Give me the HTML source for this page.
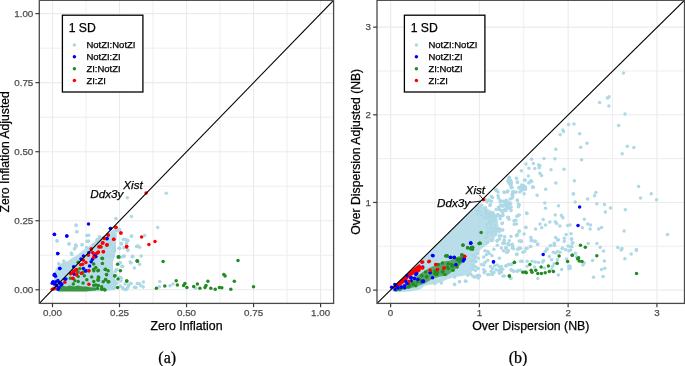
<!DOCTYPE html><html><head><meta charset="utf-8"><style>html,body{margin:0;padding:0;background:#fff;}svg{display:block;will-change:transform;}text{font-family:"Liberation Sans",sans-serif;stroke:currentColor;stroke-width:0.25px;}</style></head><body>
<svg width="685" height="366" viewBox="0 0 685 366">
<g stroke="#EEEEEE" stroke-width="1.0"><line x1="86.01" y1="0.3" x2="86.01" y2="303.4"/><line x1="39.3" y1="255.28" x2="333.6" y2="255.28"/><line x1="153.04" y1="0.3" x2="153.04" y2="303.4"/><line x1="39.3" y1="186.23" x2="333.6" y2="186.23"/><line x1="220.06" y1="0.3" x2="220.06" y2="303.4"/><line x1="39.3" y1="117.18" x2="333.6" y2="117.18"/><line x1="287.09" y1="0.3" x2="287.09" y2="303.4"/><line x1="39.3" y1="48.13" x2="333.6" y2="48.13"/></g>
<g stroke="#EBEBEB" stroke-width="1.1"><line x1="52.50" y1="0.3" x2="52.50" y2="303.4"/><line x1="39.3" y1="289.80" x2="333.6" y2="289.80"/><line x1="119.53" y1="0.3" x2="119.53" y2="303.4"/><line x1="39.3" y1="220.75" x2="333.6" y2="220.75"/><line x1="186.55" y1="0.3" x2="186.55" y2="303.4"/><line x1="39.3" y1="151.70" x2="333.6" y2="151.70"/><line x1="253.58" y1="0.3" x2="253.58" y2="303.4"/><line x1="39.3" y1="82.65" x2="333.6" y2="82.65"/><line x1="320.60" y1="0.3" x2="320.60" y2="303.4"/><line x1="39.3" y1="13.60" x2="333.6" y2="13.60"/></g>
<polygon points="52.5,291 53,284 54.5,276 55,271 57,267 60,264 64,262 68,261 72,258 76,256 81,252 86,248 91,245 96,240 101,237 105,235 110,232 114,229 116.5,230 117,236 116,242 116,249 115,256 113,262 113,270 115,278 116,285 115,290 100,291.5" fill="#ADD8E6" fill-opacity="0.9"/>
<polygon points="58,286.5 62,285.6 66,286.4 70,285.6 74,286.4 78,285.6 82,286.4 86,286.5 90,287.3 96,287.5 96,290.5 90,291 86,291.5 58,291.5" fill="#228B22" fill-opacity="0.85"/>
<g fill="#ADD8E6"><circle cx="76.0" cy="224.9" r="1.75"/><circle cx="76.9" cy="231.8" r="1.75"/><circle cx="57.1" cy="241.0" r="1.75"/><circle cx="69.0" cy="244.0" r="1.75"/><circle cx="75.6" cy="245.1" r="1.75"/><circle cx="82.0" cy="244.8" r="1.75"/><circle cx="86.9" cy="235.5" r="1.75"/><circle cx="86.9" cy="241.3" r="1.75"/><circle cx="86.5" cy="247.5" r="1.75"/><circle cx="74.6" cy="248.5" r="1.75"/><circle cx="116.0" cy="218.4" r="1.75"/><circle cx="131.4" cy="216.4" r="1.75"/><circle cx="117.4" cy="230.3" r="1.75"/><circle cx="119.4" cy="229.4" r="1.75"/><circle cx="131.4" cy="236.2" r="1.75"/><circle cx="113.3" cy="235.8" r="1.75"/><circle cx="99.6" cy="237.6" r="1.75"/><circle cx="97.6" cy="240.3" r="1.75"/><circle cx="101.7" cy="241.0" r="1.75"/><circle cx="88.7" cy="235.2" r="1.75"/><circle cx="88.7" cy="241.0" r="1.75"/><circle cx="93.5" cy="244.4" r="1.75"/><circle cx="121.5" cy="243.7" r="1.75"/><circle cx="123.5" cy="239.6" r="1.75"/><circle cx="127.6" cy="240.3" r="1.75"/><circle cx="126.3" cy="243.4" r="1.75"/><circle cx="109.9" cy="242.3" r="1.75"/><circle cx="110.5" cy="245.1" r="1.75"/><circle cx="114.0" cy="247.1" r="1.75"/><circle cx="119.4" cy="248.5" r="1.75"/><circle cx="136.5" cy="246.4" r="1.75"/><circle cx="96.2" cy="247.8" r="1.75"/><circle cx="105.8" cy="247.8" r="1.75"/><circle cx="166.2" cy="193.3" r="1.75"/><circle cx="157.7" cy="227.4" r="1.75"/><circle cx="144.6" cy="235.5" r="1.75"/><circle cx="137.8" cy="246.2" r="1.75"/><circle cx="139.6" cy="247.3" r="1.75"/><circle cx="132.5" cy="256.7" r="1.75"/><circle cx="141.2" cy="256.1" r="1.75"/><circle cx="130.7" cy="262.6" r="1.75"/><circle cx="139.6" cy="264.2" r="1.75"/><circle cx="130.7" cy="283.4" r="1.75"/><circle cx="139.3" cy="283.7" r="1.75"/><circle cx="140.9" cy="285.7" r="1.75"/><circle cx="143.3" cy="287.1" r="1.75"/><circle cx="143.3" cy="281.9" r="1.75"/><circle cx="135.9" cy="287.4" r="1.75"/><circle cx="159.8" cy="281.6" r="1.75"/><circle cx="159.4" cy="286.7" r="1.75"/><circle cx="170.0" cy="285.7" r="1.75"/><circle cx="173.0" cy="284.1" r="1.75"/><circle cx="195.6" cy="288.3" r="1.75"/><circle cx="127.3" cy="197.8" r="1.75"/><circle cx="121.2" cy="243.3" r="1.75"/><circle cx="119.6" cy="248.2" r="1.75"/><circle cx="127.8" cy="249.8" r="1.75"/><circle cx="123.7" cy="256.4" r="1.75"/><circle cx="132.4" cy="256.4" r="1.75"/><circle cx="130.2" cy="262.1" r="1.75"/><circle cx="122.0" cy="266.2" r="1.75"/><circle cx="134.3" cy="267.9" r="1.75"/><circle cx="123.7" cy="256.1" r="1.75"/><circle cx="132.4" cy="256.6" r="1.75"/><circle cx="130.8" cy="262.7" r="1.75"/><circle cx="122.6" cy="266.5" r="1.75"/><circle cx="116.0" cy="269.8" r="1.75"/><circle cx="119.9" cy="262.7" r="1.75"/><circle cx="119.9" cy="277.4" r="1.75"/><circle cx="114.4" cy="281.2" r="1.75"/><circle cx="114.9" cy="284.0" r="1.75"/><circle cx="107.8" cy="287.2" r="1.75"/><circle cx="113.3" cy="287.8" r="1.75"/><circle cx="122.6" cy="287.8" r="1.75"/><circle cx="125.9" cy="289.4" r="1.75"/><circle cx="127.5" cy="287.8" r="1.75"/><circle cx="128.6" cy="285.1" r="1.75"/><circle cx="130.8" cy="283.4" r="1.75"/><circle cx="135.7" cy="287.2" r="1.75"/><circle cx="137.3" cy="283.4" r="1.75"/><circle cx="76.2" cy="225.5" r="1.75"/><circle cx="76.8" cy="231.8" r="1.75"/><circle cx="57.1" cy="240.8" r="1.75"/><circle cx="69.1" cy="243.8" r="1.75"/><circle cx="75.7" cy="245.2" r="1.75"/><circle cx="76.2" cy="246.3" r="1.75"/><circle cx="82.2" cy="244.7" r="1.75"/><circle cx="87.7" cy="235.4" r="1.75"/><circle cx="87.7" cy="241.4" r="1.75"/><circle cx="74.6" cy="249.0" r="1.75"/><circle cx="71.3" cy="252.9" r="1.75"/><circle cx="71.9" cy="254.5" r="1.75"/><circle cx="63.7" cy="261.1" r="1.75"/><circle cx="58.7" cy="263.8" r="1.75"/><circle cx="116.3" cy="230.2" r="1.75"/><circle cx="118.0" cy="230.7" r="1.75"/><circle cx="119.6" cy="229.7" r="1.75"/><circle cx="113.6" cy="235.7" r="1.75"/><circle cx="99.4" cy="236.8" r="1.75"/><circle cx="97.2" cy="239.5" r="1.75"/><circle cx="131.6" cy="236.0" r="1.75"/><circle cx="123.4" cy="239.3" r="1.75"/><circle cx="125.6" cy="239.5" r="1.75"/><circle cx="127.8" cy="240.6" r="1.75"/><circle cx="126.7" cy="242.8" r="1.75"/><circle cx="121.2" cy="243.9" r="1.75"/><circle cx="119.0" cy="248.2" r="1.75"/><circle cx="124.0" cy="247.7" r="1.75"/><circle cx="127.8" cy="250.4" r="1.75"/><circle cx="137.6" cy="246.0" r="1.75"/><circle cx="132.7" cy="256.4" r="1.75"/><circle cx="123.4" cy="256.4" r="1.75"/><circle cx="114.1" cy="248.2" r="1.75"/><circle cx="114.7" cy="251.0" r="1.75"/><circle cx="108.5" cy="282.0" r="1.75"/><circle cx="110.0" cy="285.0" r="1.75"/><circle cx="112.5" cy="287.5" r="1.75"/><circle cx="117.0" cy="283.0" r="1.75"/><circle cx="120.5" cy="286.0" r="1.75"/><circle cx="123.0" cy="288.5" r="1.75"/><circle cx="121.0" cy="281.0" r="1.75"/><circle cx="125.0" cy="284.0" r="1.75"/><circle cx="106.1" cy="256.1" r="1.75"/><circle cx="109.4" cy="255.5" r="1.75"/><circle cx="112.7" cy="256.1" r="1.75"/><circle cx="120.8" cy="257.2" r="1.75"/><circle cx="124.1" cy="256.1" r="1.75"/><circle cx="120.3" cy="262.7" r="1.75"/><circle cx="130.7" cy="262.7" r="1.75"/><circle cx="122.5" cy="266.5" r="1.75"/><circle cx="117.0" cy="269.8" r="1.75"/><circle cx="115.4" cy="271.4" r="1.75"/><circle cx="115.9" cy="275.2" r="1.75"/><circle cx="119.2" cy="277.4" r="1.75"/><circle cx="121.4" cy="278.0" r="1.75"/><circle cx="114.8" cy="281.2" r="1.75"/><circle cx="115.4" cy="284.0" r="1.75"/><circle cx="114.3" cy="287.8" r="1.75"/><circle cx="108.3" cy="287.8" r="1.75"/><circle cx="107.2" cy="284.5" r="1.75"/><circle cx="122.5" cy="287.8" r="1.75"/><circle cx="124.7" cy="289.4" r="1.75"/><circle cx="126.9" cy="288.9" r="1.75"/><circle cx="128.5" cy="286.1" r="1.75"/><circle cx="130.7" cy="283.4" r="1.75"/><circle cx="134.5" cy="287.2" r="1.75"/></g>
<g fill="#228B22"><circle cx="137.5" cy="261.2" r="1.75"/><circle cx="163.1" cy="261.6" r="1.75"/><circle cx="156.4" cy="288.2" r="1.75"/><circle cx="164.8" cy="286.1" r="1.75"/><circle cx="176.2" cy="280.7" r="1.75"/><circle cx="177.4" cy="285.1" r="1.75"/><circle cx="183.6" cy="285.4" r="1.75"/><circle cx="184.9" cy="283.5" r="1.75"/><circle cx="186.9" cy="287.4" r="1.75"/><circle cx="193.7" cy="286.4" r="1.75"/><circle cx="197.4" cy="284.1" r="1.75"/><circle cx="199.9" cy="288.3" r="1.75"/><circle cx="205.0" cy="287.4" r="1.75"/><circle cx="206.0" cy="285.4" r="1.75"/><circle cx="207.9" cy="281.2" r="1.75"/><circle cx="210.8" cy="288.3" r="1.75"/><circle cx="215.2" cy="289.3" r="1.75"/><circle cx="219.4" cy="287.4" r="1.75"/><circle cx="221.8" cy="287.7" r="1.75"/><circle cx="223.8" cy="274.6" r="1.75"/><circle cx="225.1" cy="275.9" r="1.75"/><circle cx="230.8" cy="289.3" r="1.75"/><circle cx="234.3" cy="281.2" r="1.75"/><circle cx="238.0" cy="260.6" r="1.75"/><circle cx="253.5" cy="286.8" r="1.75"/><circle cx="79.8" cy="268.8" r="1.75"/><circle cx="78.1" cy="272.0" r="1.75"/><circle cx="93.7" cy="263.9" r="1.75"/><circle cx="93.7" cy="269.2" r="1.75"/><circle cx="83.4" cy="272.0" r="1.75"/><circle cx="78.1" cy="262.2" r="1.75"/><circle cx="118.8" cy="256.7" r="1.75"/><circle cx="102.4" cy="258.4" r="1.75"/><circle cx="102.4" cy="263.4" r="1.75"/><circle cx="117.6" cy="264.3" r="1.75"/><circle cx="95.8" cy="267.5" r="1.75"/><circle cx="98.3" cy="270.3" r="1.75"/><circle cx="105.2" cy="269.5" r="1.75"/><circle cx="108.1" cy="270.7" r="1.75"/><circle cx="120.4" cy="270.8" r="1.75"/><circle cx="106.5" cy="274.4" r="1.75"/><circle cx="114.7" cy="276.1" r="1.75"/><circle cx="98.3" cy="276.9" r="1.75"/><circle cx="118.0" cy="279.0" r="1.75"/><circle cx="105.7" cy="279.7" r="1.75"/><circle cx="98.3" cy="280.2" r="1.75"/><circle cx="103.2" cy="281.8" r="1.75"/><circle cx="108.1" cy="281.8" r="1.75"/><circle cx="126.6" cy="281.0" r="1.75"/><circle cx="95.8" cy="285.1" r="1.75"/><circle cx="101.6" cy="286.7" r="1.75"/><circle cx="97.5" cy="288.4" r="1.75"/><circle cx="104.0" cy="289.2" r="1.75"/><circle cx="101.6" cy="289.2" r="1.75"/><circle cx="117.6" cy="287.5" r="1.75"/><circle cx="70.4" cy="278.2" r="1.75"/><circle cx="78.2" cy="276.6" r="1.75"/><circle cx="84.3" cy="275.7" r="1.75"/><circle cx="91.7" cy="277.0" r="1.75"/><circle cx="98.7" cy="277.4" r="1.75"/><circle cx="74.9" cy="280.7" r="1.75"/><circle cx="78.2" cy="281.5" r="1.75"/><circle cx="86.8" cy="279.8" r="1.75"/><circle cx="93.8" cy="281.5" r="1.75"/><circle cx="83.1" cy="283.1" r="1.75"/><circle cx="73.3" cy="283.9" r="1.75"/><circle cx="93.8" cy="285.2" r="1.75"/><circle cx="97.9" cy="279.8" r="1.75"/><circle cx="98.3" cy="285.6" r="1.75"/><circle cx="97.9" cy="270.8" r="1.75"/><circle cx="93.8" cy="270.8" r="1.75"/><circle cx="137.3" cy="261.0" r="1.75"/><circle cx="118.2" cy="257.0" r="1.75"/><circle cx="102.1" cy="258.3" r="1.75"/><circle cx="118.5" cy="257.0" r="1.75"/><circle cx="137.1" cy="260.8" r="1.75"/><circle cx="105.5" cy="269.2" r="1.75"/><circle cx="106.6" cy="274.7" r="1.75"/><circle cx="114.8" cy="275.8" r="1.75"/><circle cx="105.5" cy="279.6" r="1.75"/><circle cx="108.8" cy="281.8" r="1.75"/><circle cx="126.9" cy="281.0" r="1.75"/><circle cx="105.0" cy="290.0" r="1.75"/></g>
<g fill="#0000FF"><circle cx="54.4" cy="234.6" r="1.75"/><circle cx="66.7" cy="235.9" r="1.75"/><circle cx="88.5" cy="223.9" r="1.75"/><circle cx="110.5" cy="228.4" r="1.75"/><circle cx="106.9" cy="238.7" r="1.75"/><circle cx="73.6" cy="266.7" r="1.75"/><circle cx="81.0" cy="258.9" r="1.75"/><circle cx="83.4" cy="256.1" r="1.75"/><circle cx="88.8" cy="252.8" r="1.75"/><circle cx="89.6" cy="265.9" r="1.75"/><circle cx="91.2" cy="261.8" r="1.75"/><circle cx="92.5" cy="259.3" r="1.75"/><circle cx="83.4" cy="268.4" r="1.75"/><circle cx="85.9" cy="271.1" r="1.75"/><circle cx="74.0" cy="273.7" r="1.75"/><circle cx="94.5" cy="255.2" r="1.75"/><circle cx="59.9" cy="268.6" r="1.75"/><circle cx="54.4" cy="275.1" r="1.75"/><circle cx="55.5" cy="276.2" r="1.75"/><circle cx="52.8" cy="282.2" r="1.75"/><circle cx="52.2" cy="283.3" r="1.75"/><circle cx="54.4" cy="283.9" r="1.75"/><circle cx="56.0" cy="281.7" r="1.75"/><circle cx="59.3" cy="282.8" r="1.75"/><circle cx="61.5" cy="284.4" r="1.75"/><circle cx="61.0" cy="285.0" r="1.75"/><circle cx="58.2" cy="288.8" r="1.75"/><circle cx="65.9" cy="278.9" r="1.75"/><circle cx="57.8" cy="253.6" r="1.75"/><circle cx="59.7" cy="268.4" r="1.75"/><circle cx="54.6" cy="274.2" r="1.75"/><circle cx="95.8" cy="256.4" r="1.75"/><circle cx="74.1" cy="274.1" r="1.75"/><circle cx="86.0" cy="270.8" r="1.75"/><circle cx="54.4" cy="234.3" r="1.75"/><circle cx="66.9" cy="235.9" r="1.75"/><circle cx="57.7" cy="253.6" r="1.75"/><circle cx="110.3" cy="228.6" r="1.75"/><circle cx="107.0" cy="238.6" r="1.75"/><circle cx="95.5" cy="256.8" r="1.75"/><circle cx="54.3" cy="275.3" r="1.75"/><circle cx="53.2" cy="281.7" r="1.75"/><circle cx="54.9" cy="283.4" r="1.75"/><circle cx="57.9" cy="280.5" r="1.75"/><circle cx="60.2" cy="282.9" r="1.75"/><circle cx="61.9" cy="284.0" r="1.75"/><circle cx="64.9" cy="279.3" r="1.75"/><circle cx="56.7" cy="285.8" r="1.75"/><circle cx="59.0" cy="287.5" r="1.75"/><circle cx="57.9" cy="289.3" r="1.75"/></g>
<g fill="#FF0000"><circle cx="116.0" cy="227.3" r="1.75"/><circle cx="120.8" cy="233.1" r="1.75"/><circle cx="108.2" cy="235.2" r="1.75"/><circle cx="104.1" cy="238.3" r="1.75"/><circle cx="113.7" cy="239.3" r="1.75"/><circle cx="102.8" cy="242.8" r="1.75"/><circle cx="107.1" cy="244.8" r="1.75"/><circle cx="99.6" cy="246.4" r="1.75"/><circle cx="101.0" cy="246.9" r="1.75"/><circle cx="126.7" cy="246.4" r="1.75"/><circle cx="91.4" cy="248.9" r="1.75"/><circle cx="146.1" cy="193.0" r="1.75"/><circle cx="141.6" cy="237.0" r="1.75"/><circle cx="155.0" cy="241.4" r="1.75"/><circle cx="148.9" cy="244.5" r="1.75"/><circle cx="91.2" cy="249.1" r="1.75"/><circle cx="92.5" cy="252.4" r="1.75"/><circle cx="93.3" cy="253.2" r="1.75"/><circle cx="88.4" cy="255.2" r="1.75"/><circle cx="83.4" cy="260.2" r="1.75"/><circle cx="85.9" cy="262.6" r="1.75"/><circle cx="82.6" cy="264.3" r="1.75"/><circle cx="80.6" cy="264.7" r="1.75"/><circle cx="76.5" cy="269.6" r="1.75"/><circle cx="73.6" cy="271.2" r="1.75"/><circle cx="88.8" cy="270.8" r="1.75"/><circle cx="81.4" cy="273.3" r="1.75"/><circle cx="70.7" cy="273.7" r="1.75"/><circle cx="93.7" cy="257.3" r="1.75"/><circle cx="76.5" cy="274.1" r="1.75"/><circle cx="52.2" cy="289.3" r="1.75"/><circle cx="53.8" cy="288.8" r="1.75"/><circle cx="54.9" cy="288.2" r="1.75"/><circle cx="64.8" cy="282.2" r="1.75"/><circle cx="73.0" cy="278.4" r="1.75"/><circle cx="70.8" cy="273.5" r="1.75"/><circle cx="75.7" cy="270.2" r="1.75"/><circle cx="102.4" cy="243.3" r="1.75"/><circle cx="99.9" cy="246.6" r="1.75"/><circle cx="106.8" cy="244.9" r="1.75"/><circle cx="98.3" cy="252.3" r="1.75"/><circle cx="96.6" cy="253.4" r="1.75"/><circle cx="103.2" cy="251.8" r="1.75"/><circle cx="126.5" cy="246.9" r="1.75"/><circle cx="72.9" cy="278.2" r="1.75"/><circle cx="81.5" cy="273.3" r="1.75"/><circle cx="76.6" cy="274.9" r="1.75"/><circle cx="88.9" cy="284.3" r="1.75"/><circle cx="88.9" cy="270.8" r="1.75"/><circle cx="71.6" cy="273.3" r="1.75"/><circle cx="115.8" cy="227.5" r="1.75"/><circle cx="121.0" cy="232.9" r="1.75"/><circle cx="108.1" cy="235.1" r="1.75"/><circle cx="104.3" cy="238.4" r="1.75"/><circle cx="113.8" cy="239.2" r="1.75"/><circle cx="102.7" cy="242.8" r="1.75"/><circle cx="107.0" cy="245.0" r="1.75"/><circle cx="99.9" cy="246.6" r="1.75"/><circle cx="98.8" cy="247.1" r="1.75"/><circle cx="103.5" cy="251.7" r="1.75"/><circle cx="98.3" cy="252.1" r="1.75"/><circle cx="97.2" cy="253.1" r="1.75"/><circle cx="126.7" cy="246.6" r="1.75"/></g>
<line x1="39.3" y1="303.4" x2="333.6" y2="0.3" stroke="#000" stroke-width="1.1"/>
<rect x="39.3" y="0.3" width="294.3" height="303.09999999999997" fill="none" stroke="#4A4A4A" stroke-width="1.3"/>
<g stroke="#3A3A3A" stroke-width="1.2"><line x1="52.50" y1="303.4" x2="52.50" y2="307.2"/><line x1="35.4" y1="289.80" x2="39.3" y2="289.80"/><line x1="119.53" y1="303.4" x2="119.53" y2="307.2"/><line x1="35.4" y1="220.75" x2="39.3" y2="220.75"/><line x1="186.55" y1="303.4" x2="186.55" y2="307.2"/><line x1="35.4" y1="151.70" x2="39.3" y2="151.70"/><line x1="253.58" y1="303.4" x2="253.58" y2="307.2"/><line x1="35.4" y1="82.65" x2="39.3" y2="82.65"/><line x1="320.60" y1="303.4" x2="320.60" y2="307.2"/><line x1="35.4" y1="13.60" x2="39.3" y2="13.60"/></g>
<g fill="#4D4D4D" color="#4D4D4D" font-size="9.8"><text x="52.50" y="316.2" text-anchor="middle">0.00</text><text x="33.30" y="292.90" text-anchor="end">0.00</text><text x="119.53" y="316.2" text-anchor="middle">0.25</text><text x="33.30" y="223.85" text-anchor="end">0.25</text><text x="186.55" y="316.2" text-anchor="middle">0.50</text><text x="33.30" y="154.80" text-anchor="end">0.50</text><text x="253.58" y="316.2" text-anchor="middle">0.75</text><text x="33.30" y="85.75" text-anchor="end">0.75</text><text x="320.60" y="316.2" text-anchor="middle">1.00</text><text x="33.30" y="16.70" text-anchor="end">1.00</text></g>
<text x="186.5" y="330.4" font-size="12.35" text-anchor="middle" fill="#000">Zero Inflation</text>
<text transform="translate(9.3,151.8) rotate(-90)" x="0" y="0" font-size="12.2" text-anchor="middle" fill="#000">Zero Inflation Adjusted</text>
<rect x="62.4" y="15.2" width="80.5" height="76.8" fill="#fff" stroke="#000" stroke-width="1.3"/>
<text x="68.7" y="31.5" font-size="12.2" fill="#000">1 SD</text>
<circle cx="74.4" cy="45.00" r="1.75" fill="#ADD8E6"/>
<text x="86.4" y="48.30" font-size="9.5" fill="#000">NotZI:NotZI</text>
<circle cx="74.4" cy="56.85" r="1.75" fill="#0000FF"/>
<text x="86.4" y="60.15" font-size="9.5" fill="#000">NotZI:ZI</text>
<circle cx="74.4" cy="68.70" r="1.75" fill="#228B22"/>
<text x="86.4" y="72.00" font-size="9.5" fill="#000">ZI:NotZI</text>
<circle cx="74.4" cy="80.55" r="1.75" fill="#FF0000"/>
<text x="86.4" y="83.85" font-size="9.5" fill="#000">ZI:ZI</text>
<text x="167.2" y="363" font-size="16" text-anchor="middle" style="font-family:'Liberation Serif',serif" fill="#000">(a)</text>
<g font-size="11.7" font-style="italic" fill="#000">
<text x="123.3" y="188.9">Xist</text>
<text x="90.3" y="197.5">Ddx3y</text>
</g>
<g stroke="#EEEEEE" stroke-width="1.0"><line x1="434.99" y1="0.3" x2="434.99" y2="303.4"/><line x1="377.0" y1="246.28" x2="684.5" y2="246.28"/><line x1="523.75" y1="0.3" x2="523.75" y2="303.4"/><line x1="377.0" y1="158.62" x2="684.5" y2="158.62"/><line x1="612.52" y1="0.3" x2="612.52" y2="303.4"/><line x1="377.0" y1="70.98" x2="684.5" y2="70.98"/></g>
<g stroke="#EBEBEB" stroke-width="1.1"><line x1="390.60" y1="0.3" x2="390.60" y2="303.4"/><line x1="377.0" y1="290.10" x2="684.5" y2="290.10"/><line x1="479.37" y1="0.3" x2="479.37" y2="303.4"/><line x1="377.0" y1="202.45" x2="684.5" y2="202.45"/><line x1="568.14" y1="0.3" x2="568.14" y2="303.4"/><line x1="377.0" y1="114.80" x2="684.5" y2="114.80"/><line x1="656.91" y1="0.3" x2="656.91" y2="303.4"/><line x1="377.0" y1="27.15" x2="684.5" y2="27.15"/></g>
<polygon points="391,290.2 478,204.5 484,207 492,211 497,216 499,228 495,238 488,244 480,250 476,258 475,268 468.7,274.7 461.1,276.3 454.5,276.9 446.9,279.6 441.4,282.3 434.8,284 425,285.5 420,289.5 410,291.5 400,292 393,291.5" fill="#ADD8E6" fill-opacity="0.85"/>
<polygon points="394,291 402,290 410,288.5 418,286 425,283.5 432,279 440,276.5 447,275.5 453,271 458,267 463,262 466,258 463,255 457,257 450,260.5 443,261.5 436,265 429,268 422,272.5 415,277.5 408,282 401,286 396,288.5" fill="#228B22" fill-opacity="0.65"/>
<polygon points="392.5,287.5 397.3,282.5 403.5,277 409.6,271.5 415.8,266.5 419.4,264 421,266 420.7,270.9 417,273.4 413.3,274.6 409,277.5 407,280 404,283 399,286.5 394,289" fill="#FF0000" fill-opacity="1"/>
<g fill="#ADD8E6"><circle cx="623.5" cy="73.0" r="1.75"/><circle cx="607.4" cy="97.9" r="1.75"/><circle cx="609.1" cy="96.7" r="1.75"/><circle cx="599.6" cy="102.6" r="1.75"/><circle cx="608.9" cy="105.9" r="1.75"/><circle cx="625.0" cy="113.9" r="1.75"/><circle cx="568.6" cy="124.6" r="1.75"/><circle cx="574.0" cy="124.1" r="1.75"/><circle cx="618.7" cy="125.4" r="1.75"/><circle cx="562.9" cy="130.0" r="1.75"/><circle cx="627.3" cy="146.3" r="1.75"/><circle cx="633.8" cy="147.6" r="1.75"/><circle cx="622.2" cy="153.7" r="1.75"/><circle cx="638.6" cy="186.4" r="1.75"/><circle cx="651.2" cy="193.7" r="1.75"/><circle cx="640.5" cy="197.9" r="1.75"/><circle cx="656.6" cy="199.8" r="1.75"/><circle cx="625.3" cy="209.8" r="1.75"/><circle cx="624.1" cy="231.1" r="1.75"/><circle cx="667.5" cy="234.4" r="1.75"/><circle cx="622.0" cy="248.4" r="1.75"/><circle cx="636.4" cy="249.6" r="1.75"/><circle cx="563.5" cy="131.5" r="1.75"/><circle cx="560.2" cy="134.7" r="1.75"/><circle cx="579.7" cy="133.8" r="1.75"/><circle cx="587.0" cy="143.3" r="1.75"/><circle cx="580.7" cy="147.3" r="1.75"/><circle cx="555.8" cy="149.3" r="1.75"/><circle cx="531.5" cy="159.2" r="1.75"/><circle cx="544.0" cy="158.6" r="1.75"/><circle cx="554.9" cy="158.8" r="1.75"/><circle cx="581.6" cy="159.8" r="1.75"/><circle cx="533.4" cy="163.6" r="1.75"/><circle cx="538.6" cy="164.9" r="1.75"/><circle cx="539.9" cy="165.5" r="1.75"/><circle cx="534.8" cy="168.4" r="1.75"/><circle cx="539.2" cy="167.8" r="1.75"/><circle cx="551.0" cy="169.7" r="1.75"/><circle cx="564.0" cy="169.3" r="1.75"/><circle cx="539.9" cy="173.2" r="1.75"/><circle cx="541.5" cy="175.4" r="1.75"/><circle cx="531.5" cy="181.2" r="1.75"/><circle cx="574.4" cy="180.8" r="1.75"/><circle cx="555.8" cy="183.1" r="1.75"/><circle cx="532.9" cy="186.9" r="1.75"/><circle cx="545.7" cy="189.2" r="1.75"/><circle cx="573.3" cy="193.9" r="1.75"/><circle cx="595.8" cy="192.6" r="1.75"/><circle cx="594.5" cy="195.8" r="1.75"/><circle cx="587.6" cy="199.1" r="1.75"/><circle cx="575.2" cy="201.9" r="1.75"/><circle cx="596.8" cy="203.8" r="1.75"/><circle cx="604.4" cy="204.6" r="1.75"/><circle cx="610.5" cy="207.9" r="1.75"/><circle cx="605.4" cy="212.1" r="1.75"/><circle cx="584.3" cy="219.3" r="1.75"/><circle cx="587.8" cy="223.9" r="1.75"/><circle cx="590.5" cy="225.1" r="1.75"/><circle cx="570.0" cy="225.1" r="1.75"/><circle cx="582.4" cy="227.7" r="1.75"/><circle cx="590.1" cy="228.9" r="1.75"/><circle cx="598.7" cy="228.9" r="1.75"/><circle cx="601.5" cy="227.4" r="1.75"/><circle cx="571.0" cy="233.7" r="1.75"/><circle cx="571.5" cy="238.8" r="1.75"/><circle cx="571.5" cy="239.6" r="1.75"/><circle cx="572.9" cy="242.8" r="1.75"/><circle cx="571.9" cy="246.8" r="1.75"/><circle cx="570.6" cy="250.1" r="1.75"/><circle cx="588.2" cy="243.4" r="1.75"/><circle cx="596.8" cy="243.4" r="1.75"/><circle cx="600.2" cy="247.2" r="1.75"/><circle cx="603.5" cy="251.0" r="1.75"/><circle cx="575.4" cy="253.3" r="1.75"/><circle cx="576.7" cy="256.8" r="1.75"/><circle cx="584.3" cy="262.9" r="1.75"/><circle cx="583.0" cy="265.0" r="1.75"/><circle cx="570.0" cy="266.3" r="1.75"/><circle cx="570.0" cy="268.2" r="1.75"/><circle cx="592.6" cy="260.6" r="1.75"/><circle cx="604.4" cy="261.0" r="1.75"/><circle cx="601.5" cy="269.6" r="1.75"/><circle cx="604.8" cy="268.2" r="1.75"/><circle cx="593.5" cy="277.2" r="1.75"/><circle cx="603.1" cy="276.5" r="1.75"/><circle cx="617.8" cy="247.6" r="1.75"/><circle cx="621.2" cy="250.1" r="1.75"/><circle cx="624.9" cy="258.7" r="1.75"/><circle cx="631.2" cy="253.9" r="1.75"/><circle cx="636.3" cy="250.6" r="1.75"/><circle cx="526.0" cy="164.0" r="1.75"/><circle cx="521.3" cy="170.7" r="1.75"/><circle cx="528.9" cy="168.2" r="1.75"/><circle cx="528.3" cy="176.0" r="1.75"/><circle cx="508.8" cy="178.3" r="1.75"/><circle cx="510.7" cy="180.8" r="1.75"/><circle cx="508.8" cy="182.1" r="1.75"/><circle cx="516.5" cy="178.3" r="1.75"/><circle cx="517.4" cy="182.1" r="1.75"/><circle cx="525.1" cy="180.2" r="1.75"/><circle cx="528.9" cy="183.1" r="1.75"/><circle cx="511.7" cy="187.3" r="1.75"/><circle cx="519.3" cy="187.9" r="1.75"/><circle cx="523.2" cy="186.0" r="1.75"/><circle cx="524.1" cy="188.5" r="1.75"/><circle cx="510.7" cy="183.8" r="1.75"/><circle cx="517.4" cy="182.3" r="1.75"/><circle cx="525.1" cy="186.7" r="1.75"/><circle cx="524.1" cy="189.6" r="1.75"/><circle cx="521.3" cy="190.5" r="1.75"/><circle cx="531.4" cy="181.5" r="1.75"/><circle cx="533.3" cy="187.3" r="1.75"/><circle cx="507.3" cy="191.9" r="1.75"/><circle cx="512.6" cy="191.9" r="1.75"/><circle cx="516.1" cy="191.9" r="1.75"/><circle cx="512.6" cy="195.3" r="1.75"/><circle cx="519.9" cy="191.9" r="1.75"/><circle cx="524.1" cy="193.8" r="1.75"/><circle cx="537.1" cy="195.3" r="1.75"/><circle cx="511.7" cy="198.2" r="1.75"/><circle cx="506.0" cy="201.0" r="1.75"/><circle cx="507.9" cy="203.9" r="1.75"/><circle cx="506.0" cy="205.8" r="1.75"/><circle cx="517.4" cy="200.1" r="1.75"/><circle cx="518.4" cy="203.9" r="1.75"/><circle cx="518.4" cy="206.8" r="1.75"/><circle cx="510.7" cy="203.9" r="1.75"/><circle cx="508.8" cy="208.3" r="1.75"/><circle cx="506.0" cy="210.6" r="1.75"/><circle cx="544.8" cy="202.9" r="1.75"/><circle cx="545.5" cy="208.3" r="1.75"/><circle cx="558.5" cy="205.8" r="1.75"/><circle cx="573.5" cy="193.8" r="1.75"/><circle cx="527.0" cy="213.5" r="1.75"/><circle cx="519.3" cy="215.0" r="1.75"/><circle cx="516.9" cy="216.3" r="1.75"/><circle cx="508.4" cy="217.7" r="1.75"/><circle cx="514.6" cy="220.5" r="1.75"/><circle cx="516.5" cy="224.0" r="1.75"/><circle cx="555.3" cy="215.0" r="1.75"/><circle cx="561.4" cy="215.4" r="1.75"/><circle cx="562.9" cy="217.7" r="1.75"/><circle cx="543.2" cy="219.6" r="1.75"/><circle cx="549.9" cy="222.1" r="1.75"/><circle cx="555.3" cy="221.7" r="1.75"/><circle cx="556.6" cy="223.4" r="1.75"/><circle cx="559.9" cy="225.9" r="1.75"/><circle cx="540.0" cy="224.0" r="1.75"/><circle cx="545.5" cy="224.9" r="1.75"/><circle cx="541.7" cy="227.8" r="1.75"/><circle cx="526.0" cy="227.4" r="1.75"/><circle cx="535.6" cy="229.1" r="1.75"/><circle cx="519.3" cy="231.2" r="1.75"/><circle cx="517.4" cy="234.9" r="1.75"/><circle cx="524.1" cy="234.1" r="1.75"/><circle cx="567.7" cy="225.5" r="1.75"/><circle cx="566.2" cy="234.5" r="1.75"/><circle cx="530.8" cy="237.4" r="1.75"/><circle cx="531.8" cy="240.2" r="1.75"/><circle cx="534.6" cy="241.2" r="1.75"/><circle cx="537.5" cy="244.4" r="1.75"/><circle cx="521.3" cy="241.6" r="1.75"/><circle cx="555.7" cy="237.4" r="1.75"/><circle cx="558.5" cy="239.8" r="1.75"/><circle cx="554.7" cy="244.1" r="1.75"/><circle cx="564.3" cy="238.3" r="1.75"/><circle cx="564.3" cy="241.2" r="1.75"/><circle cx="508.8" cy="244.6" r="1.75"/><circle cx="512.6" cy="246.0" r="1.75"/><circle cx="506.0" cy="247.9" r="1.75"/><circle cx="519.3" cy="247.9" r="1.75"/><circle cx="526.0" cy="248.5" r="1.75"/><circle cx="530.8" cy="246.5" r="1.75"/><circle cx="550.9" cy="245.6" r="1.75"/><circle cx="554.3" cy="245.4" r="1.75"/><circle cx="547.1" cy="248.8" r="1.75"/><circle cx="562.4" cy="248.3" r="1.75"/><circle cx="568.1" cy="246.0" r="1.75"/><circle cx="521.4" cy="241.3" r="1.75"/><circle cx="531.2" cy="240.8" r="1.75"/><circle cx="535.3" cy="241.3" r="1.75"/><circle cx="537.8" cy="244.1" r="1.75"/><circle cx="508.3" cy="244.1" r="1.75"/><circle cx="512.4" cy="245.7" r="1.75"/><circle cx="505.8" cy="247.4" r="1.75"/><circle cx="512.4" cy="248.2" r="1.75"/><circle cx="508.3" cy="250.7" r="1.75"/><circle cx="506.6" cy="252.3" r="1.75"/><circle cx="518.1" cy="249.0" r="1.75"/><circle cx="520.6" cy="248.2" r="1.75"/><circle cx="523.0" cy="252.3" r="1.75"/><circle cx="524.7" cy="251.5" r="1.75"/><circle cx="527.1" cy="248.2" r="1.75"/><circle cx="530.4" cy="246.6" r="1.75"/><circle cx="516.5" cy="254.4" r="1.75"/><circle cx="554.2" cy="243.3" r="1.75"/><circle cx="550.1" cy="245.7" r="1.75"/><circle cx="557.5" cy="240.0" r="1.75"/><circle cx="546.8" cy="249.8" r="1.75"/><circle cx="545.2" cy="251.5" r="1.75"/><circle cx="562.4" cy="248.2" r="1.75"/><circle cx="565.7" cy="249.8" r="1.75"/><circle cx="568.9" cy="250.7" r="1.75"/><circle cx="572.2" cy="243.3" r="1.75"/><circle cx="570.6" cy="246.6" r="1.75"/><circle cx="553.4" cy="252.3" r="1.75"/><circle cx="555.8" cy="253.1" r="1.75"/><circle cx="559.9" cy="252.3" r="1.75"/><circle cx="557.5" cy="251.5" r="1.75"/><circle cx="549.3" cy="256.4" r="1.75"/><circle cx="551.7" cy="259.7" r="1.75"/><circle cx="543.5" cy="260.5" r="1.75"/><circle cx="557.5" cy="259.7" r="1.75"/><circle cx="566.5" cy="258.9" r="1.75"/><circle cx="520.6" cy="261.3" r="1.75"/><circle cx="522.2" cy="261.3" r="1.75"/><circle cx="527.1" cy="261.3" r="1.75"/><circle cx="532.0" cy="261.3" r="1.75"/><circle cx="535.3" cy="262.1" r="1.75"/><circle cx="538.6" cy="262.6" r="1.75"/><circle cx="542.7" cy="262.1" r="1.75"/><circle cx="508.3" cy="264.6" r="1.75"/><circle cx="511.6" cy="264.3" r="1.75"/><circle cx="505.8" cy="265.9" r="1.75"/><circle cx="527.1" cy="266.2" r="1.75"/><circle cx="534.5" cy="267.0" r="1.75"/><circle cx="554.2" cy="263.8" r="1.75"/><circle cx="552.5" cy="266.2" r="1.75"/><circle cx="557.5" cy="263.8" r="1.75"/><circle cx="568.9" cy="266.2" r="1.75"/><circle cx="568.9" cy="268.7" r="1.75"/><circle cx="561.6" cy="269.5" r="1.75"/><circle cx="511.6" cy="270.3" r="1.75"/><circle cx="513.2" cy="271.1" r="1.75"/><circle cx="517.3" cy="271.1" r="1.75"/><circle cx="520.6" cy="270.3" r="1.75"/><circle cx="544.3" cy="267.9" r="1.75"/><circle cx="551.7" cy="269.5" r="1.75"/><circle cx="510.7" cy="278.5" r="1.75"/><circle cx="537.8" cy="278.5" r="1.75"/><circle cx="558.3" cy="274.9" r="1.75"/><circle cx="454.7" cy="284.3" r="1.75"/><circle cx="459.6" cy="281.8" r="1.75"/><circle cx="465.3" cy="281.0" r="1.75"/><circle cx="454.7" cy="276.9" r="1.75"/><circle cx="467.8" cy="275.2" r="1.75"/><circle cx="474.3" cy="276.9" r="1.75"/><circle cx="479.3" cy="276.1" r="1.75"/><circle cx="484.2" cy="272.8" r="1.75"/><circle cx="489.1" cy="274.4" r="1.75"/><circle cx="492.4" cy="273.6" r="1.75"/><circle cx="500.6" cy="269.5" r="1.75"/><circle cx="503.0" cy="276.1" r="1.75"/><circle cx="519.2" cy="187.5" r="1.75"/><circle cx="522.5" cy="186.6" r="1.75"/><circle cx="525.7" cy="189.1" r="1.75"/><circle cx="504.4" cy="192.4" r="1.75"/><circle cx="507.7" cy="191.6" r="1.75"/><circle cx="514.3" cy="192.4" r="1.75"/><circle cx="512.6" cy="197.3" r="1.75"/><circle cx="510.2" cy="198.9" r="1.75"/><circle cx="517.5" cy="200.6" r="1.75"/><circle cx="519.2" cy="204.7" r="1.75"/><circle cx="500.3" cy="200.6" r="1.75"/><circle cx="505.2" cy="203.0" r="1.75"/><circle cx="508.5" cy="204.7" r="1.75"/><circle cx="502.8" cy="206.3" r="1.75"/><circle cx="526.6" cy="212.9" r="1.75"/><circle cx="518.4" cy="215.3" r="1.75"/><circle cx="515.9" cy="220.2" r="1.75"/><circle cx="514.3" cy="224.3" r="1.75"/><circle cx="508.5" cy="217.5" r="1.75"/><circle cx="502.0" cy="223.5" r="1.75"/><circle cx="525.7" cy="227.3" r="1.75"/><circle cx="519.2" cy="230.9" r="1.75"/><circle cx="517.5" cy="234.2" r="1.75"/><circle cx="499.5" cy="229.3" r="1.75"/><circle cx="502.8" cy="230.1" r="1.75"/><circle cx="501.1" cy="235.8" r="1.75"/><circle cx="509.3" cy="240.7" r="1.75"/><circle cx="504.4" cy="243.2" r="1.75"/><circle cx="520.8" cy="240.7" r="1.75"/><circle cx="496.2" cy="209.6" r="1.75"/><circle cx="497.9" cy="214.5" r="1.75"/><circle cx="509.5" cy="177.5" r="1.75"/><circle cx="510.3" cy="180.8" r="1.75"/><circle cx="508.7" cy="182.5" r="1.75"/><circle cx="511.1" cy="184.1" r="1.75"/><circle cx="524.3" cy="180.0" r="1.75"/><circle cx="529.2" cy="182.5" r="1.75"/><circle cx="530.8" cy="180.8" r="1.75"/><circle cx="523.4" cy="185.7" r="1.75"/><circle cx="521.8" cy="187.4" r="1.75"/><circle cx="525.1" cy="188.2" r="1.75"/><circle cx="532.5" cy="187.0" r="1.75"/><circle cx="511.1" cy="187.4" r="1.75"/><circle cx="495.6" cy="189.8" r="1.75"/><circle cx="507.8" cy="181.1" r="1.75"/><circle cx="511.1" cy="182.2" r="1.75"/><circle cx="510.0" cy="184.4" r="1.75"/><circle cx="511.6" cy="187.7" r="1.75"/><circle cx="496.3" cy="190.4" r="1.75"/><circle cx="498.0" cy="192.0" r="1.75"/><circle cx="504.0" cy="192.0" r="1.75"/><circle cx="507.8" cy="190.9" r="1.75"/><circle cx="513.3" cy="191.5" r="1.75"/><circle cx="512.2" cy="194.2" r="1.75"/><circle cx="491.4" cy="196.4" r="1.75"/><circle cx="492.5" cy="197.5" r="1.75"/><circle cx="498.0" cy="195.8" r="1.75"/><circle cx="498.5" cy="198.0" r="1.75"/><circle cx="489.2" cy="200.2" r="1.75"/><circle cx="491.4" cy="201.3" r="1.75"/><circle cx="485.9" cy="199.7" r="1.75"/><circle cx="487.0" cy="201.9" r="1.75"/><circle cx="500.1" cy="201.9" r="1.75"/><circle cx="503.4" cy="201.3" r="1.75"/><circle cx="506.1" cy="200.2" r="1.75"/><circle cx="507.8" cy="201.9" r="1.75"/><circle cx="510.0" cy="203.0" r="1.75"/><circle cx="501.2" cy="205.1" r="1.75"/><circle cx="504.5" cy="204.6" r="1.75"/><circle cx="506.7" cy="206.2" r="1.75"/><circle cx="511.1" cy="207.3" r="1.75"/><circle cx="511.1" cy="210.6" r="1.75"/><circle cx="481.6" cy="205.1" r="1.75"/><circle cx="479.4" cy="207.3" r="1.75"/><circle cx="477.2" cy="210.6" r="1.75"/><circle cx="479.9" cy="211.7" r="1.75"/><circle cx="484.8" cy="207.9" r="1.75"/><circle cx="485.4" cy="210.6" r="1.75"/><circle cx="490.3" cy="204.6" r="1.75"/><circle cx="498.5" cy="207.3" r="1.75"/><circle cx="499.6" cy="209.5" r="1.75"/><circle cx="502.3" cy="210.6" r="1.75"/><circle cx="505.6" cy="209.0" r="1.75"/><circle cx="502.9" cy="212.8" r="1.75"/><circle cx="477.2" cy="213.9" r="1.75"/><circle cx="481.6" cy="215.0" r="1.75"/><circle cx="485.9" cy="213.9" r="1.75"/><circle cx="484.3" cy="217.7" r="1.75"/><circle cx="488.1" cy="217.2" r="1.75"/><circle cx="491.4" cy="215.0" r="1.75"/><circle cx="493.0" cy="212.8" r="1.75"/><circle cx="494.1" cy="217.7" r="1.75"/><circle cx="496.9" cy="216.1" r="1.75"/><circle cx="501.2" cy="216.1" r="1.75"/><circle cx="500.1" cy="218.8" r="1.75"/><circle cx="507.8" cy="217.2" r="1.75"/><circle cx="508.9" cy="219.3" r="1.75"/><circle cx="509.1" cy="177.3" r="1.75"/><circle cx="508.6" cy="179.0" r="1.75"/><circle cx="510.2" cy="180.6" r="1.75"/><circle cx="511.3" cy="182.8" r="1.75"/><circle cx="510.8" cy="185.0" r="1.75"/><circle cx="521.7" cy="185.0" r="1.75"/><circle cx="523.3" cy="186.1" r="1.75"/><circle cx="525.0" cy="187.2" r="1.75"/><circle cx="522.8" cy="187.7" r="1.75"/><circle cx="519.0" cy="187.7" r="1.75"/><circle cx="511.9" cy="187.2" r="1.75"/><circle cx="496.6" cy="189.9" r="1.75"/><circle cx="491.9" cy="240.5" r="1.75"/><circle cx="497.3" cy="241.1" r="1.75"/><circle cx="499.4" cy="239.1" r="1.75"/><circle cx="504.2" cy="240.5" r="1.75"/><circle cx="502.8" cy="243.2" r="1.75"/><circle cx="511.0" cy="236.4" r="1.75"/><circle cx="516.4" cy="235.7" r="1.75"/><circle cx="519.2" cy="241.1" r="1.75"/><circle cx="497.3" cy="245.2" r="1.75"/><circle cx="501.4" cy="248.0" r="1.75"/><circle cx="503.5" cy="250.7" r="1.75"/><circle cx="506.2" cy="248.7" r="1.75"/><circle cx="508.3" cy="244.6" r="1.75"/><circle cx="512.3" cy="245.2" r="1.75"/><circle cx="513.7" cy="248.7" r="1.75"/><circle cx="517.8" cy="249.3" r="1.75"/><circle cx="493.9" cy="249.3" r="1.75"/><circle cx="485.0" cy="250.7" r="1.75"/><circle cx="487.8" cy="251.4" r="1.75"/><circle cx="489.1" cy="253.4" r="1.75"/><circle cx="486.4" cy="254.8" r="1.75"/><circle cx="507.6" cy="252.1" r="1.75"/><circle cx="517.1" cy="254.1" r="1.75"/><circle cx="491.9" cy="255.5" r="1.75"/><circle cx="472.7" cy="255.5" r="1.75"/><circle cx="475.5" cy="256.2" r="1.75"/><circle cx="477.5" cy="253.4" r="1.75"/><circle cx="478.2" cy="258.2" r="1.75"/><circle cx="474.1" cy="259.6" r="1.75"/><circle cx="471.4" cy="261.0" r="1.75"/><circle cx="476.1" cy="261.6" r="1.75"/><circle cx="483.7" cy="256.9" r="1.75"/><circle cx="487.8" cy="260.3" r="1.75"/><circle cx="485.0" cy="262.3" r="1.75"/><circle cx="483.7" cy="265.1" r="1.75"/><circle cx="481.6" cy="264.4" r="1.75"/><circle cx="499.4" cy="258.2" r="1.75"/><circle cx="472.7" cy="265.7" r="1.75"/><circle cx="476.1" cy="267.1" r="1.75"/><circle cx="472.7" cy="269.2" r="1.75"/><circle cx="475.5" cy="270.5" r="1.75"/><circle cx="478.2" cy="268.5" r="1.75"/><circle cx="490.5" cy="266.4" r="1.75"/><circle cx="492.5" cy="268.5" r="1.75"/><circle cx="494.6" cy="265.7" r="1.75"/><circle cx="497.3" cy="265.1" r="1.75"/><circle cx="499.4" cy="267.1" r="1.75"/><circle cx="501.4" cy="266.4" r="1.75"/><circle cx="496.0" cy="269.8" r="1.75"/><circle cx="498.7" cy="270.5" r="1.75"/><circle cx="500.7" cy="269.8" r="1.75"/><circle cx="491.2" cy="271.2" r="1.75"/><circle cx="492.5" cy="274.6" r="1.75"/><circle cx="487.8" cy="274.6" r="1.75"/><circle cx="493.9" cy="272.6" r="1.75"/><circle cx="483.7" cy="269.8" r="1.75"/><circle cx="485.0" cy="271.2" r="1.75"/><circle cx="470.7" cy="273.9" r="1.75"/><circle cx="472.7" cy="276.0" r="1.75"/><circle cx="475.5" cy="276.7" r="1.75"/><circle cx="477.5" cy="275.3" r="1.75"/><circle cx="479.6" cy="276.0" r="1.75"/><circle cx="478.2" cy="278.0" r="1.75"/><circle cx="499.4" cy="273.3" r="1.75"/><circle cx="501.4" cy="271.9" r="1.75"/><circle cx="502.8" cy="269.2" r="1.75"/><circle cx="506.2" cy="265.7" r="1.75"/><circle cx="508.9" cy="264.4" r="1.75"/><circle cx="511.0" cy="264.4" r="1.75"/><circle cx="504.2" cy="276.0" r="1.75"/><circle cx="511.0" cy="269.8" r="1.75"/><circle cx="513.7" cy="271.2" r="1.75"/><circle cx="517.1" cy="271.2" r="1.75"/><circle cx="518.5" cy="270.5" r="1.75"/><circle cx="511.0" cy="278.0" r="1.75"/><circle cx="489.9" cy="205.5" r="1.75"/><circle cx="500.3" cy="206.1" r="1.75"/><circle cx="499.2" cy="209.4" r="1.75"/><circle cx="501.4" cy="211.0" r="1.75"/><circle cx="504.1" cy="209.9" r="1.75"/><circle cx="506.3" cy="208.3" r="1.75"/><circle cx="508.5" cy="206.6" r="1.75"/><circle cx="485.5" cy="207.7" r="1.75"/><circle cx="499.8" cy="215.9" r="1.75"/><circle cx="503.0" cy="215.4" r="1.75"/><circle cx="508.0" cy="217.6" r="1.75"/><circle cx="502.5" cy="223.0" r="1.75"/><circle cx="514.0" cy="220.8" r="1.75"/><circle cx="508.0" cy="243.8" r="1.75"/><circle cx="512.3" cy="244.3" r="1.75"/><circle cx="487.2" cy="242.7" r="1.75"/><circle cx="487.2" cy="212.7" r="1.75"/><circle cx="489.9" cy="213.7" r="1.75"/><circle cx="492.7" cy="213.2" r="1.75"/><circle cx="494.3" cy="215.4" r="1.75"/><circle cx="491.6" cy="216.5" r="1.75"/><circle cx="488.3" cy="215.9" r="1.75"/><circle cx="486.1" cy="218.1" r="1.75"/><circle cx="489.4" cy="219.2" r="1.75"/><circle cx="493.2" cy="218.7" r="1.75"/><circle cx="495.4" cy="220.3" r="1.75"/><circle cx="492.7" cy="221.4" r="1.75"/><circle cx="489.4" cy="222.5" r="1.75"/><circle cx="486.6" cy="224.7" r="1.75"/><circle cx="490.5" cy="224.7" r="1.75"/><circle cx="494.8" cy="225.2" r="1.75"/><circle cx="487.2" cy="228.0" r="1.75"/><circle cx="490.5" cy="228.0" r="1.75"/><circle cx="493.7" cy="228.5" r="1.75"/><circle cx="497.0" cy="228.5" r="1.75"/><circle cx="499.2" cy="229.0" r="1.75"/><circle cx="488.8" cy="231.2" r="1.75"/><circle cx="492.1" cy="231.8" r="1.75"/><circle cx="495.9" cy="231.2" r="1.75"/><circle cx="499.2" cy="231.8" r="1.75"/><circle cx="501.9" cy="230.1" r="1.75"/><circle cx="487.2" cy="234.0" r="1.75"/><circle cx="491.6" cy="234.5" r="1.75"/><circle cx="495.9" cy="234.0" r="1.75"/><circle cx="499.2" cy="236.1" r="1.75"/><circle cx="486.1" cy="237.2" r="1.75"/><circle cx="492.7" cy="240.0" r="1.75"/><circle cx="497.0" cy="240.5" r="1.75"/><circle cx="504.1" cy="240.0" r="1.75"/><circle cx="504.7" cy="236.7" r="1.75"/><circle cx="434.8" cy="283.4" r="1.75"/><circle cx="441.4" cy="282.9" r="1.75"/><circle cx="454.5" cy="284.5" r="1.75"/><circle cx="459.4" cy="281.8" r="1.75"/><circle cx="466.0" cy="281.2" r="1.75"/></g>
<g fill="#228B22"><circle cx="580.5" cy="245.3" r="1.75"/><circle cx="585.3" cy="247.2" r="1.75"/><circle cx="572.3" cy="255.2" r="1.75"/><circle cx="578.6" cy="257.7" r="1.75"/><circle cx="577.6" cy="258.7" r="1.75"/><circle cx="579.2" cy="261.0" r="1.75"/><circle cx="582.0" cy="261.5" r="1.75"/><circle cx="596.8" cy="255.8" r="1.75"/><circle cx="636.5" cy="273.6" r="1.75"/><circle cx="514.3" cy="262.5" r="1.75"/><circle cx="529.9" cy="264.6" r="1.75"/><circle cx="541.1" cy="267.0" r="1.75"/><circle cx="548.4" cy="265.9" r="1.75"/><circle cx="557.1" cy="263.3" r="1.75"/><circle cx="559.1" cy="256.1" r="1.75"/><circle cx="567.6" cy="261.6" r="1.75"/><circle cx="572.2" cy="255.2" r="1.75"/><circle cx="523.0" cy="272.3" r="1.75"/><circle cx="525.5" cy="272.0" r="1.75"/><circle cx="526.3" cy="272.8" r="1.75"/><circle cx="531.2" cy="270.3" r="1.75"/><circle cx="532.0" cy="272.3" r="1.75"/><circle cx="535.8" cy="270.3" r="1.75"/><circle cx="537.8" cy="273.6" r="1.75"/><circle cx="541.4" cy="273.6" r="1.75"/><circle cx="545.2" cy="272.8" r="1.75"/><circle cx="549.3" cy="271.6" r="1.75"/><circle cx="553.4" cy="271.5" r="1.75"/><circle cx="509.4" cy="276.1" r="1.75"/><circle cx="463.0" cy="245.1" r="1.75"/><circle cx="467.5" cy="247.9" r="1.75"/><circle cx="471.6" cy="247.5" r="1.75"/><circle cx="472.5" cy="249.2" r="1.75"/><circle cx="447.0" cy="255.7" r="1.75"/><circle cx="461.8" cy="254.9" r="1.75"/><circle cx="479.0" cy="243.4" r="1.75"/><circle cx="457.7" cy="259.0" r="1.75"/><circle cx="461.0" cy="259.0" r="1.75"/><circle cx="462.9" cy="245.2" r="1.75"/><circle cx="467.8" cy="247.4" r="1.75"/><circle cx="471.4" cy="247.4" r="1.75"/><circle cx="470.7" cy="249.0" r="1.75"/><circle cx="480.1" cy="243.3" r="1.75"/><circle cx="447.3" cy="255.9" r="1.75"/><circle cx="462.0" cy="254.8" r="1.75"/><circle cx="457.1" cy="259.7" r="1.75"/><circle cx="460.4" cy="259.3" r="1.75"/><circle cx="438.3" cy="264.6" r="1.75"/><circle cx="442.4" cy="263.0" r="1.75"/><circle cx="448.1" cy="263.8" r="1.75"/><circle cx="451.4" cy="264.6" r="1.75"/><circle cx="452.2" cy="266.2" r="1.75"/><circle cx="447.3" cy="267.0" r="1.75"/><circle cx="442.4" cy="272.0" r="1.75"/><circle cx="444.8" cy="274.4" r="1.75"/><circle cx="436.6" cy="274.4" r="1.75"/><circle cx="435.0" cy="271.1" r="1.75"/><circle cx="453.0" cy="270.3" r="1.75"/><circle cx="457.1" cy="267.0" r="1.75"/><circle cx="481.1" cy="232.5" r="1.75"/><circle cx="479.8" cy="243.2" r="1.75"/><circle cx="421.0" cy="282.0" r="1.75"/><circle cx="426.5" cy="276.6" r="1.75"/><circle cx="434.7" cy="273.8" r="1.75"/><circle cx="442.9" cy="271.1" r="1.75"/><circle cx="448.4" cy="268.4" r="1.75"/><circle cx="453.8" cy="265.6" r="1.75"/><circle cx="459.3" cy="261.5" r="1.75"/><circle cx="462.0" cy="258.8" r="1.75"/><circle cx="445.6" cy="256.0" r="1.75"/><circle cx="451.1" cy="257.4" r="1.75"/><circle cx="412.8" cy="283.4" r="1.75"/><circle cx="407.3" cy="282.0" r="1.75"/><circle cx="401.9" cy="287.5" r="1.75"/><circle cx="418.3" cy="279.3" r="1.75"/><circle cx="430.6" cy="272.5" r="1.75"/><circle cx="437.4" cy="272.5" r="1.75"/><circle cx="479.8" cy="243.6" r="1.75"/><circle cx="471.4" cy="248.0" r="1.75"/><circle cx="472.7" cy="247.3" r="1.75"/><circle cx="514.4" cy="262.3" r="1.75"/><circle cx="509.3" cy="276.0" r="1.75"/><circle cx="409.6" cy="285.7" r="1.75"/><circle cx="413.3" cy="284.4" r="1.75"/><circle cx="417.0" cy="282.0" r="1.75"/><circle cx="419.4" cy="279.5" r="1.75"/><circle cx="421.9" cy="275.8" r="1.75"/><circle cx="425.6" cy="272.1" r="1.75"/><circle cx="426.8" cy="277.0" r="1.75"/><circle cx="421.9" cy="280.7" r="1.75"/><circle cx="415.8" cy="285.7" r="1.75"/><circle cx="408.4" cy="286.9" r="1.75"/><circle cx="399.8" cy="289.4" r="1.75"/><circle cx="396.1" cy="290.0" r="1.75"/></g>
<g fill="#0000FF"><circle cx="579.6" cy="206.9" r="1.75"/><circle cx="578.0" cy="225.4" r="1.75"/><circle cx="543.2" cy="254.4" r="1.75"/><circle cx="391.6" cy="287.2" r="1.75"/><circle cx="394.8" cy="284.5" r="1.75"/><circle cx="397.0" cy="286.7" r="1.75"/><circle cx="401.4" cy="287.2" r="1.75"/><circle cx="404.7" cy="287.8" r="1.75"/><circle cx="406.9" cy="275.8" r="1.75"/><circle cx="411.2" cy="277.4" r="1.75"/><circle cx="414.5" cy="278.5" r="1.75"/><circle cx="411.2" cy="280.7" r="1.75"/><circle cx="417.8" cy="279.6" r="1.75"/><circle cx="422.7" cy="281.2" r="1.75"/><circle cx="416.7" cy="273.6" r="1.75"/><circle cx="422.7" cy="267.0" r="1.75"/><circle cx="405.8" cy="281.2" r="1.75"/><circle cx="408.0" cy="282.9" r="1.75"/><circle cx="432.5" cy="255.6" r="1.75"/><circle cx="432.5" cy="277.7" r="1.75"/><circle cx="430.1" cy="272.8" r="1.75"/><circle cx="423.5" cy="281.0" r="1.75"/><circle cx="433.1" cy="255.7" r="1.75"/><circle cx="450.3" cy="257.4" r="1.75"/><circle cx="454.1" cy="257.4" r="1.75"/><circle cx="470.8" cy="243.1" r="1.75"/><circle cx="464.3" cy="259.0" r="1.75"/><circle cx="470.7" cy="243.0" r="1.75"/><circle cx="450.6" cy="257.2" r="1.75"/><circle cx="454.3" cy="257.2" r="1.75"/><circle cx="464.2" cy="258.9" r="1.75"/><circle cx="463.2" cy="261.0" r="1.75"/><circle cx="456.0" cy="264.6" r="1.75"/><circle cx="493.5" cy="261.8" r="1.75"/><circle cx="470.7" cy="243.2" r="1.75"/><circle cx="493.5" cy="261.9" r="1.75"/><circle cx="401.0" cy="286.9" r="1.75"/><circle cx="404.7" cy="285.7" r="1.75"/><circle cx="407.1" cy="283.2" r="1.75"/><circle cx="410.8" cy="277.7" r="1.75"/><circle cx="414.5" cy="278.3" r="1.75"/><circle cx="415.8" cy="274.6" r="1.75"/><circle cx="423.1" cy="281.4" r="1.75"/><circle cx="398.0" cy="288.0" r="1.75"/><circle cx="395.0" cy="289.5" r="1.75"/></g>
<g fill="#FF0000"><circle cx="422.7" cy="262.1" r="1.75"/><circle cx="429.3" cy="261.3" r="1.75"/><circle cx="435.8" cy="264.6" r="1.75"/><circle cx="437.5" cy="269.5" r="1.75"/><circle cx="444.0" cy="267.9" r="1.75"/><circle cx="422.7" cy="267.9" r="1.75"/><circle cx="430.1" cy="270.3" r="1.75"/><circle cx="464.6" cy="256.2" r="1.75"/><circle cx="464.8" cy="256.4" r="1.75"/><circle cx="444.0" cy="267.9" r="1.75"/><circle cx="437.5" cy="269.5" r="1.75"/><circle cx="435.8" cy="264.6" r="1.75"/><circle cx="483.5" cy="199.8" r="1.75"/><circle cx="409.0" cy="281.4" r="1.75"/><circle cx="421.9" cy="262.3" r="1.75"/><circle cx="428.7" cy="261.7" r="1.75"/><circle cx="421.9" cy="267.8" r="1.75"/></g>
<line x1="377.0" y1="303.4" x2="684.5" y2="0.3" stroke="#000" stroke-width="1.1"/>
<rect x="377.0" y="0.3" width="307.5" height="303.09999999999997" fill="none" stroke="#4A4A4A" stroke-width="1.3"/>
<g stroke="#3A3A3A" stroke-width="1.2"><line x1="390.60" y1="303.4" x2="390.60" y2="307.2"/><line x1="373.1" y1="290.10" x2="377.0" y2="290.10"/><line x1="479.37" y1="303.4" x2="479.37" y2="307.2"/><line x1="373.1" y1="202.45" x2="377.0" y2="202.45"/><line x1="568.14" y1="303.4" x2="568.14" y2="307.2"/><line x1="373.1" y1="114.80" x2="377.0" y2="114.80"/><line x1="656.91" y1="303.4" x2="656.91" y2="307.2"/><line x1="373.1" y1="27.15" x2="377.0" y2="27.15"/></g>
<g fill="#4D4D4D" color="#4D4D4D" font-size="9.8"><text x="390.60" y="316.2" text-anchor="middle">0</text><text x="371.00" y="293.20" text-anchor="end">0</text><text x="479.37" y="316.2" text-anchor="middle">1</text><text x="371.00" y="205.55" text-anchor="end">1</text><text x="568.14" y="316.2" text-anchor="middle">2</text><text x="371.00" y="117.90" text-anchor="end">2</text><text x="656.91" y="316.2" text-anchor="middle">3</text><text x="371.00" y="30.25" text-anchor="end">3</text></g>
<text x="530.8" y="330.4" font-size="12.35" text-anchor="middle" fill="#000">Over Dispersion (NB)</text>
<text transform="translate(360.2,151.8) rotate(-90)" x="0" y="0" font-size="12.2" text-anchor="middle" fill="#000">Over Dispersion Adjusted (NB)</text>
<rect x="404.4" y="15.2" width="80.5" height="76.8" fill="#fff" stroke="#000" stroke-width="1.3"/>
<text x="410.7" y="31.5" font-size="12.2" fill="#000">1 SD</text>
<circle cx="416.4" cy="45.00" r="1.75" fill="#ADD8E6"/>
<text x="428.4" y="48.30" font-size="9.5" fill="#000">NotZI:NotZI</text>
<circle cx="416.4" cy="56.85" r="1.75" fill="#0000FF"/>
<text x="428.4" y="60.15" font-size="9.5" fill="#000">NotZI:ZI</text>
<circle cx="416.4" cy="68.70" r="1.75" fill="#228B22"/>
<text x="428.4" y="72.00" font-size="9.5" fill="#000">ZI:NotZI</text>
<circle cx="416.4" cy="80.55" r="1.75" fill="#FF0000"/>
<text x="428.4" y="83.85" font-size="9.5" fill="#000">ZI:ZI</text>
<text x="518" y="363" font-size="16" text-anchor="middle" style="font-family:'Liberation Serif',serif" fill="#000">(b)</text>
<g font-size="11.7" font-style="italic" fill="#000">
<text x="465.6" y="193.5">Xist</text>
<text x="437" y="206.6">Ddx3y</text>
</g>
<g stroke="#000" stroke-width="0.9"><line x1="479.4" y1="194.9" x2="483.5" y2="199.8"/><line x1="469.9" y1="202.4" x2="481" y2="201.1"/></g>
</svg></body></html>
